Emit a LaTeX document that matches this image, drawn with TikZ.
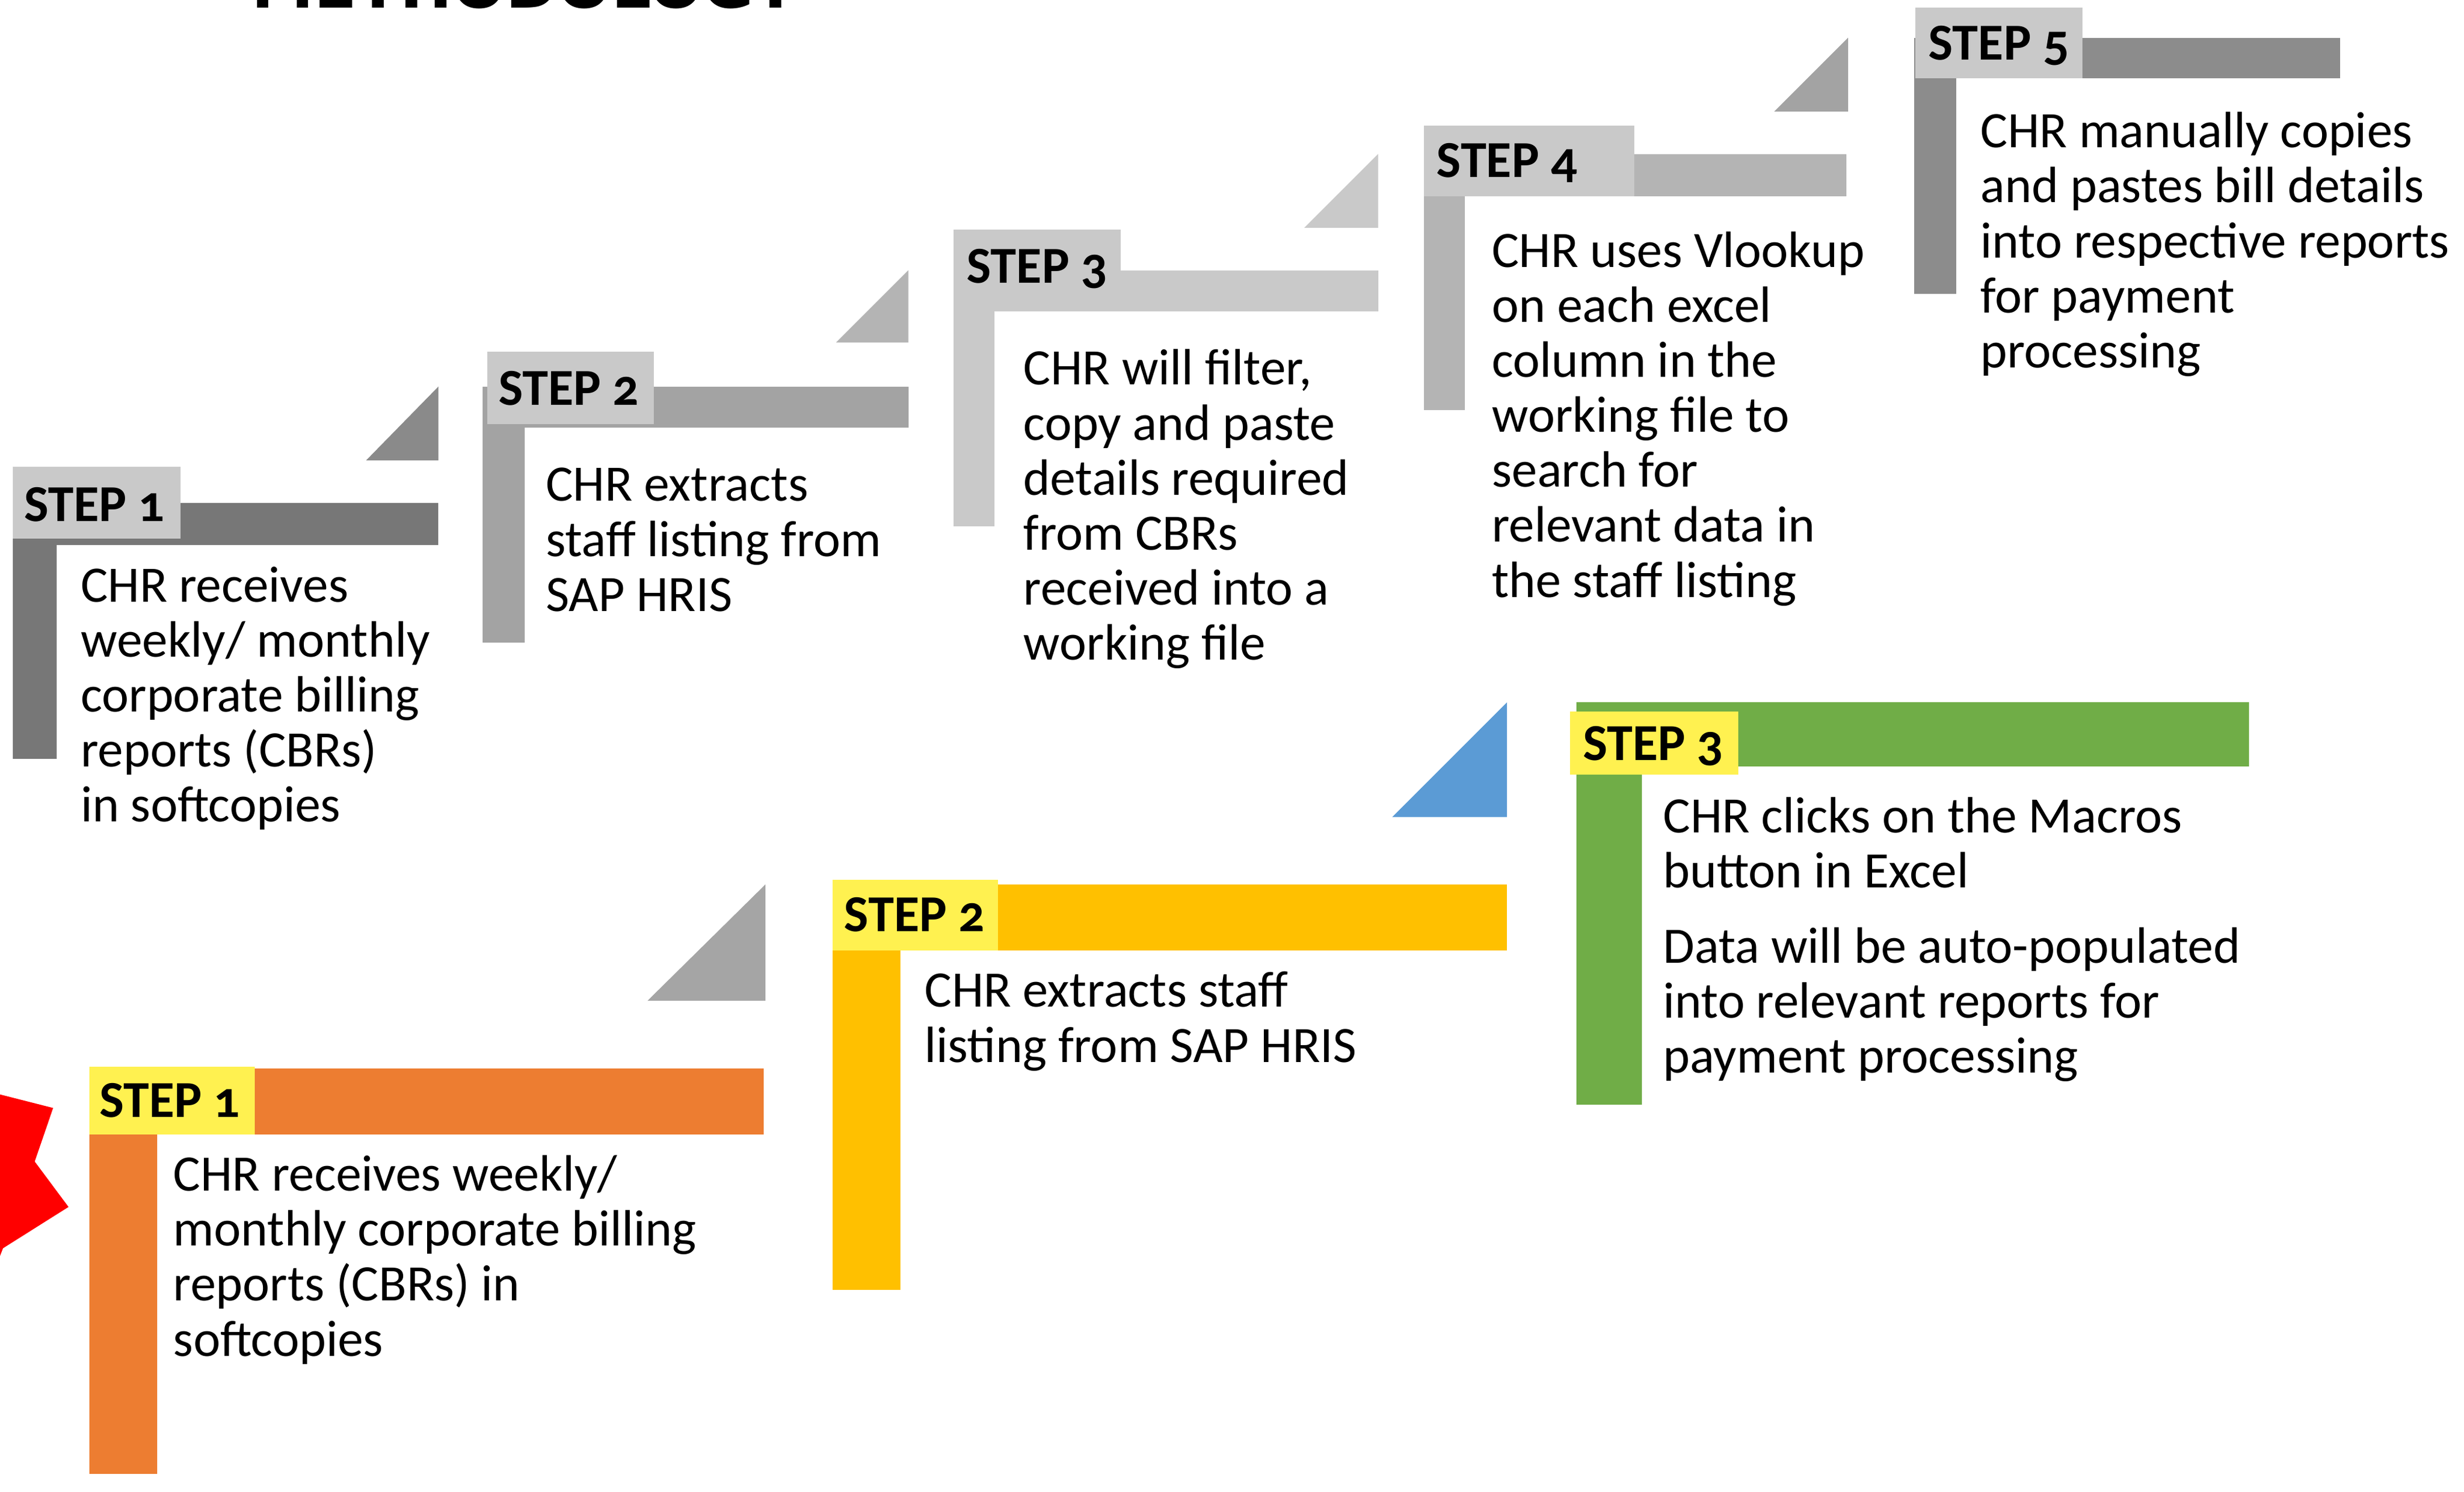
\documentclass[tikz,border=0pt]{standalone}
\usepackage{fontspec}
\setmainfont{Carlito}
\newfontfamily\labelfont{Carlito}[Numbers=OldStyle]
\newfontfamily\titlefont{DejaVu Sans}
\definecolor{gA}{HTML}{777777}
\definecolor{gB}{HTML}{A3A3A3}
\definecolor{gC}{HTML}{C9C9C9}
\definecolor{gD}{HTML}{B4B4B4}
\definecolor{gE}{HTML}{8C8C8C}
\definecolor{tA}{HTML}{8A8A8A}
\definecolor{labgrey}{HTML}{C9C9C9}
\definecolor{labyel}{HTML}{FFF150}
\definecolor{cOr}{HTML}{ED7D31}
\definecolor{cGo}{HTML}{FFC000}
\definecolor{cGr}{HTML}{70AD47}
\definecolor{cBl}{HTML}{5B9BD5}
\definecolor{cTri}{HTML}{A5A5A5}
\newcommand{\ml}[1]{\begin{tabular}[t]{@{}l@{}}#1\end{tabular}}
\begin{document}
\begin{tikzpicture}[x=0.5pt,y=-0.5pt,
  body/.style={anchor=base west, inner sep=0pt, font=\fontsize{16.25}{17.5}\selectfont},
  steplabel/.style={anchor=base, inner sep=0pt, font=\labelfont\bfseries\fontsize{16.5}{18}\selectfont}]
\useasboundingbox (0,0) rectangle (1568,949.3);

% title (cut off at top)
\node[anchor=base, inner sep=0pt, font=\titlefont\bfseries\fontsize{20}{22}\selectfont] (title) at (334,5) {METHODOLOGY};

% ===== grey staircase (top) =====
% step 1
\fill[gA] (8,320) rectangle (279,347);
\fill[gA] (8,320) rectangle (36,483);
\fill[labgrey] (8,297) rectangle (115,343);
\node[steplabel] (g1lab) at (60,332) {STEP 1};
\fill[tA] (233,293) -- (279,293) -- (279,246) -- cycle;
\node[body] (g1txt) at (51,383) {\ml{CHR receives\\weekly/ monthly\\corporate billing\\reports (CBRs)\\in softcopies}};

% step 2
\fill[gB] (307,246) rectangle (578,272);
\fill[gB] (307,246) rectangle (334,409);
\fill[labgrey] (310,224) rectangle (416,270);
\node[steplabel] (g2lab) at (362,258) {STEP 2};
\fill[gD] (532,218) -- (578,218) -- (578,172) -- cycle;
\node[body] (g2txt) at (347,319) {\ml{CHR extracts\\staff listing from\\SAP HRIS}};

% step 3
\fill[gC] (607,172) rectangle (877,198);
\fill[gC] (607,172) rectangle (633,335);
\fill[labgrey] (607,146) rectangle (713,193);
\node[steplabel] (g3lab) at (660,180) {STEP 3};
\fill[gC] (830,145) -- (877,145) -- (877,98) -- cycle;
\node[body] (g3txt) at (651,245) {\ml{CHR will filter,\\copy and paste\\details required\\from CBRs\\received into a\\working file}};

% step 4
\fill[gD] (906,98) rectangle (1175,125);
\fill[gD] (906,98) rectangle (932,261);
\fill[labgrey] (906,80) rectangle (1040,125);
\node[steplabel] (g4lab) at (959,113) {STEP 4};
\fill[gB] (1129,71) -- (1176,71) -- (1176,24) -- cycle;
\node[body] (g4txt) at (949,170) {\ml{CHR uses Vlookup\\on each excel\\column in the\\working file to\\search for\\relevant data in\\the staff listing}};

% step 5
\fill[gE] (1218,24) rectangle (1489,50);
\fill[gE] (1218,24) rectangle (1245,187);
\fill[labgrey] (1219,5) rectangle (1325,50);
\node[steplabel] (g5lab) at (1272,38) {STEP 5};
\node[body] (g5txt) at (1260,94) {\ml{CHR manually copies\\and pastes bill details\\into respective reports\\for payment\\processing}};

% ===== coloured staircase (bottom) =====
% red burst (cut at left edge)
\fill[red] (-20,690) -- (0,696.6) -- (33.8,705.2) -- (22.1,739.3) -- (43.6,768.2) -- (1.9,794.5) -- (0,799.4) -- (-20,810) -- cycle;

% step 1
\fill[cOr] (57,680) rectangle (486,722);
\fill[cOr] (57,680) rectangle (100,938);
\fill[labyel] (57,679) rectangle (162,722);
\node[steplabel] (c1lab) at (108,711) {STEP 1};
\fill[cTri] (412,637) -- (487,637) -- (487,563) -- cycle;
\node[body] (c1txt) at (110,758) {\ml{CHR receives weekly/\\monthly corporate billing\\reports (CBRs) in\\softcopies}};

% step 2
\fill[cGo] (530,563) rectangle (959,605);
\fill[cGo] (530,563) rectangle (573,821);
\fill[labyel] (530,560) rectangle (635,605);
\node[steplabel] (c2lab) at (582,593) {STEP 2};
\fill[cBl] (886,520) -- (959,520) -- (959,447) -- cycle;
\node[body] (c2txt) at (588,641) {\ml{CHR extracts staff\\listing from SAP HRIS}};

% step 3
\fill[cGr] (1003,447) rectangle (1431,488);
\fill[cGr] (1003,447) rectangle (1045,703);
\fill[labyel] (999,453) rectangle (1106,493);
\node[steplabel] (c3lab) at (1052,484) {STEP 3};
\node[body] (c3txta) at (1058,530) {\ml{CHR clicks on the Macros\\button in Excel}};
\node[body] (c3txtb) at (1058,613) {\ml{Data will be auto-populated\\into relevant reports for\\payment processing}};
\end{tikzpicture}
\end{document}
